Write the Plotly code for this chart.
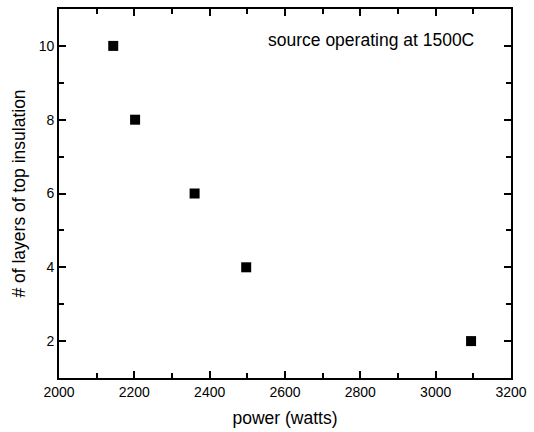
import plotly.graph_objects as go

power = [2144, 2202, 2360, 2497, 3094]
layers = [10, 8, 6, 4, 2]
x_ticks = [2000, 2200, 2400, 2600, 2800, 3000, 3200]
y_ticks = [2, 4, 6, 8, 10]

fig = go.Figure()
fig.add_trace(go.Scatter(
    x=power, y=layers, mode="markers",
    marker=dict(symbol="square", size=10, color="black", line=dict(width=0)),
    showlegend=False,
))

font = "Liberation Sans, Arial, sans-serif"
axis_common = dict(
    showline=True, linecolor="black", linewidth=1.8, mirror="allticks",
    ticks="inside", ticklen=7, tickwidth=1.6, tickcolor="black",
    showgrid=False, zeroline=False,
    tickfont=dict(family=font, size=14, color="black"),
)
fig.update_xaxes(
    range=[2000, 3200], tickvals=x_ticks,
    minor=dict(ticks="inside", ticklen=5, tickwidth=1.6, tickcolor="black", dtick=100, tick0=2000),
    title=dict(text="power (watts)", font=dict(family=font, size=17.5, color="black"), standoff=13),
    **axis_common,
)
fig.update_yaxes(
    range=[1, 11], tickvals=y_ticks,
    minor=dict(ticks="inside", ticklen=5, tickwidth=1.6, tickcolor="black", dtick=1, tick0=1),
    title=dict(text="# of layers of top insulation", font=dict(family=font, size=17.5, color="black"), standoff=9),
    **axis_common,
)
fig.add_annotation(
    x=0.9216, y=0.915, xref="paper", yref="paper", xanchor="right", yanchor="middle",
    text="source operating at 1500C", showarrow=False,
    font=dict(family=font, size=17.5, color="black"),
)
fig.update_layout(
    width=534, height=432,
    margin=dict(l=59, r=16, t=7, b=53),
    plot_bgcolor="white", paper_bgcolor="white",
)
fig.write_html("out.html")
